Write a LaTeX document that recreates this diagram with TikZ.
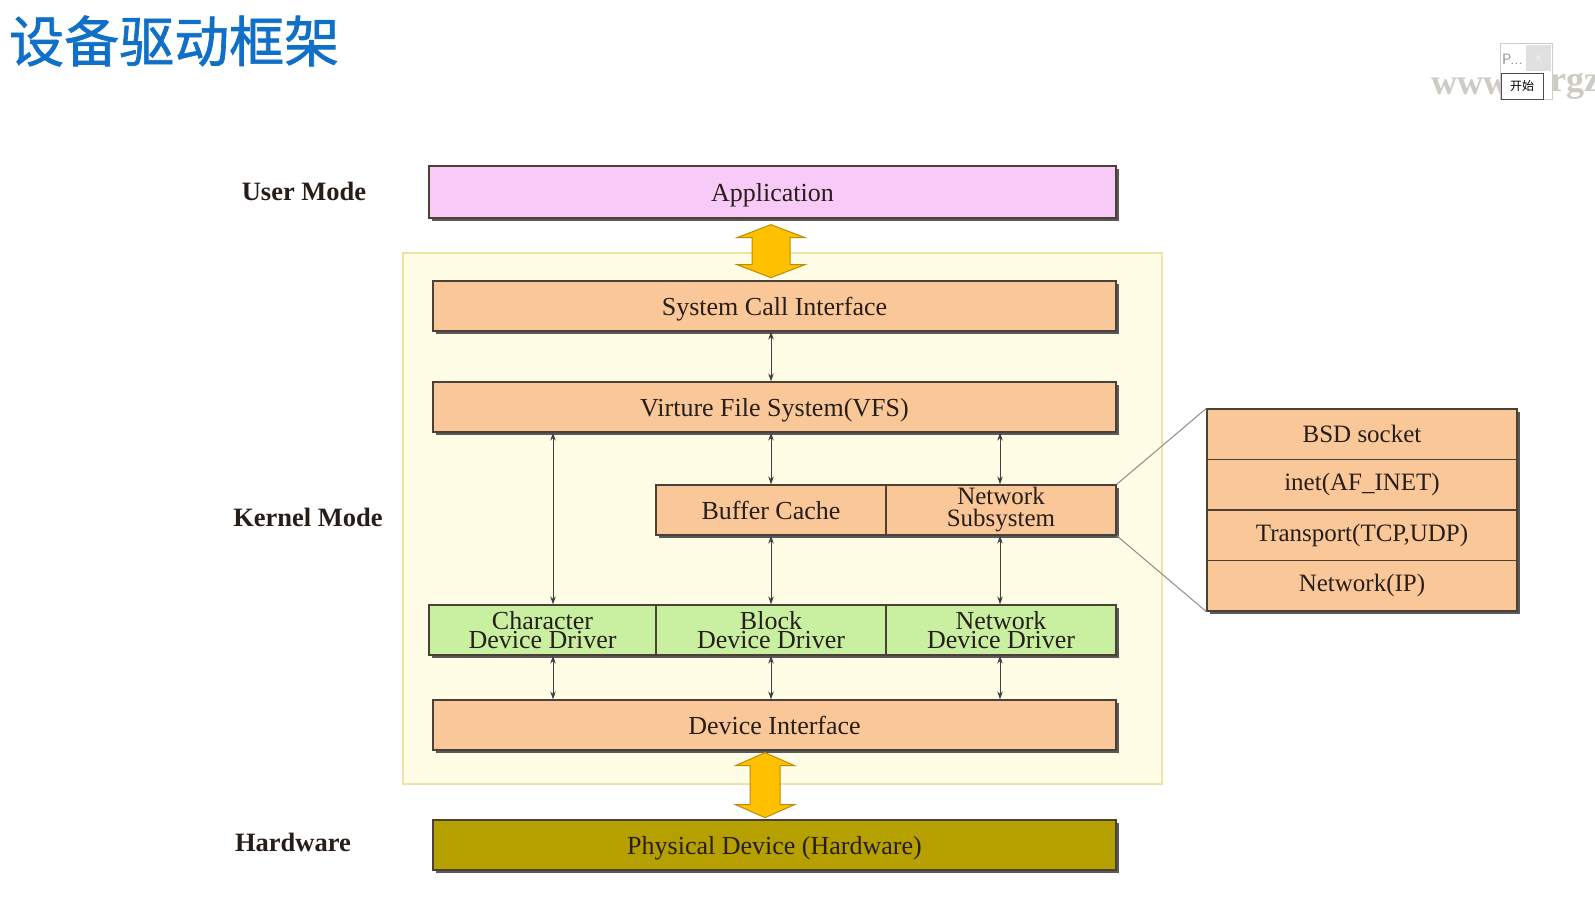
\documentclass[tikz,border=0pt]{standalone}
\usepackage{fontspec}
\setmainfont{Liberation Serif}
\newfontfamily\cjk{Noto Sans CJK SC}
\newfontfamily\cjktitle{Noto Sans CJK SC}[FakeBold=1.2]
\usetikzlibrary{shadows,arrows.meta}
\definecolor{titleblue}{RGB}{16,112,200}
\definecolor{appfill}{RGB}{248,202,248}
\definecolor{orfill}{RGB}{250,200,152}
\definecolor{grfill}{RGB}{200,240,160}
\definecolor{olfill}{RGB}{182,160,0}
\definecolor{kfill}{RGB}{255,253,230}
\definecolor{kline}{RGB}{238,228,165}
\definecolor{bline}{RGB}{75,65,55}
\definecolor{txt}{RGB}{40,30,25}
\definecolor{arrfill}{RGB}{255,192,0}
\definecolor{arrline}{RGB}{190,140,0}
\definecolor{wm}{RGB}{205,203,195}
\tikzset{
  box/.style={draw=bline, line width=1.3pt, fill=orfill, text=txt,
    font=\fontsize{26}{19}\selectfont, align=center, inner sep=0pt,
    drop shadow={shadow xshift=3pt, shadow yshift=-3pt, fill=black!65, opacity=1}},
  one/.style={text height=21pt, text depth=3pt},
  appbox/.style={box, fill=appfill},
  drvbox/.style={box, fill=grfill},
  hwbox/.style={box, fill=olfill},
  sidebox/.style={box, minimum width=310pt, minimum height=50.5pt, font=\fontsize{25}{19}\selectfont},
  modelabel/.style={font=\bfseries\fontsize{26.5}{26.5}\selectfont, text=txt},
  dbl/.style={{Stealth[length=8pt,width=5.5pt]}-{Stealth[length=8pt,width=5.5pt]}, draw=black!75, line width=0.8pt},
  bigarr/.style={fill=arrfill, draw=arrline, line width=1pt, line join=miter},
  zoomline/.style={draw=black!45, line width=1pt}
}
\begin{document}
\begin{tikzpicture}[x=1pt,y=-1pt]
\useasboundingbox (0,0) rectangle (1595,918);
\fill[white] (0,0) rectangle (1595,918);

% title
\node[anchor=west, inner sep=0pt, text=titleblue, font=\cjktitle\fontsize{55}{60}\selectfont] (title) at (9,41) {设备驱动框架};

% watermark and popup
\node[anchor=west, inner sep=0pt, text=wm, font=\bfseries\fontsize{36}{36}\selectfont] (wm1) at (1431,86) {www};
\node[anchor=west, inner sep=0pt, text=wm, font=\bfseries\fontsize{36}{36}\selectfont] (wm2) at (1541,86) {.rgz};
\node[draw=black!20, fill=white, minimum width=52pt, minimum height=56pt, inner sep=0pt] (popup) at (1526,71) {};
\node[fill=black!12, minimum width=25pt, minimum height=26pt, inner sep=0pt, text=white, font=\sffamily\fontsize{12}{12}\selectfont] (px) at (1538.5,58) {$\times$};
\node[anchor=west, inner sep=0pt, text=black!45, font=\sffamily\fontsize{15}{15}\selectfont] (pt) at (1502,59) {P...};
\node[draw=black!70, fill=white, minimum width=42pt, minimum height=26pt, inner sep=0pt, font=\cjk\fontsize{12}{12}\selectfont] (btn) at (1522,86) {开始};

% kernel region
\node[draw=kline, line width=1.5pt, fill=kfill, minimum width=759pt, minimum height=531pt, inner sep=0pt] (kernel) at (782.5,518.5) {};

% mode labels
\node[modelabel] (um) at (304,191) {User Mode};
\node[modelabel] (km) at (308,517) {Kernel Mode};
\node[modelabel] (hw) at (293,842) {Hardware};

% boxes
\node[appbox, one, minimum width=687pt, minimum height=52pt] (app) at (772.5,192) {Application};
\node[box, one, minimum width=683pt, minimum height=50pt] (sci) at (774.5,306) {System Call Interface};
\node[box, one, minimum width=683pt, minimum height=50pt] (vfs) at (774.5,407) {Virture File System(VFS)};
\node[box, one, minimum width=230pt, minimum height=50pt] (buf) at (771,510) {Buffer Cache};
\node[box, minimum width=230pt, minimum height=50pt, font=\fontsize{25}{22}\selectfont] (net) at (1001,510) {Network\\Subsystem};
\node[drvbox, minimum width=227pt, minimum height=50pt] (chr) at (542.5,630) {Character\\Device Driver};
\node[drvbox, minimum width=230pt, minimum height=50pt] (blk) at (771,630) {Block\\Device Driver};
\node[drvbox, minimum width=230pt, minimum height=50pt] (ndd) at (1001,630) {Network\\Device Driver};
\node[box, one, minimum width=683pt, minimum height=50pt] (di) at (774.5,725) {Device Interface};
\node[hwbox, one, minimum width=683pt, minimum height=50pt] (phy) at (774.5,845) {Physical Device (Hardware)};

% side box
\node[sidebox] (bsd) at (1362,434.25) {BSD socket};
\node[sidebox] (inet) at (1362,484.75) {inet(AF\_INET)};
\node[sidebox] (tr) at (1362,535.25) {Transport(TCP,UDP)};
\node[sidebox] (ip) at (1362,585.75) {Network(IP)};
\draw[zoomline] (net.north east) -- (bsd.north west);
\draw[zoomline] (net.south east) -- (ip.south west);

% small arrows
\coordinate (cx) at ([xshift=10.5pt]chr.north);
\coordinate (cxs) at ([xshift=10.5pt]chr.south);
\coordinate (nx) at ([xshift=-1pt]net.north);
\coordinate (nxs) at ([xshift=-1pt]ndd.south);
\draw[dbl] (sci.south -| buf.north) -- (vfs.north -| buf.north);
\draw[dbl] (vfs.south -| cx) -- (cx);
\draw[dbl] (vfs.south -| buf.north) -- (buf.north);
\draw[dbl] (vfs.south -| nx) -- (nx);
\draw[dbl] (buf.south) -- (blk.north);
\draw[dbl] (net.south -| nx) -- (ndd.north -| nx);
\draw[dbl] (cxs) -- (di.north -| cxs);
\draw[dbl] (blk.south) -- (di.north -| blk.south);
\draw[dbl] (nxs) -- (di.north -| nxs);

% big arrows
\coordinate (ta) at (app.south -| buf.north);
\filldraw[bigarr] ([yshift=-6pt]ta) -- ++(34,13) -- ++(-15,0) -- ++(0,27) -- ++(15,0) -- ++(-34,13) -- ++(-34,-13) -- ++(15,0) -- ++(0,-27) -- ++(-15,0) -- cycle;
\coordinate (ba) at ([xshift=-9.5pt]di.south);
\filldraw[bigarr] ([yshift=-2pt]ba) -- ++(29.5,13) -- ++(-14.5,0) -- ++(0,39) -- ++(14.5,0) -- ++(-29.5,13) -- ++(-29.5,-13) -- ++(14.5,0) -- ++(0,-39) -- ++(-14.5,0) -- cycle;
\end{tikzpicture}
\end{document}
